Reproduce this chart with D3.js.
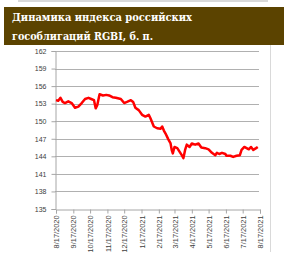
<!DOCTYPE html>
<html><head><meta charset="utf-8">
<script src="https://cdn.jsdelivr.net/npm/d3@7"></script>
<style>body{margin:0;background:#fff;}svg{display:block;}</style>
</head><body>
<svg id="c" width="286" height="262"></svg>
<script>
const titleLines = ["Динамика индекса российских", "гособлигаций RGBI, б. п."];
const dates = ["2020-08-17","2020-08-21","2020-08-25","2020-08-29","2020-09-02","2020-09-08","2020-09-14","2020-09-20","2020-09-26","2020-10-02","2020-10-08","2020-10-14","2020-10-19","2020-10-24","2020-10-27","2020-10-30","2020-11-02","2020-11-03","2020-11-09","2020-11-15","2020-11-20","2020-11-26","2020-12-02","2020-12-11","2020-12-17","2020-12-22","2020-12-29","2021-01-02","2021-01-06","2021-01-12","2021-01-18","2021-01-24","2021-01-30","2021-02-02","2021-02-08","2021-02-14","2021-02-20","2021-02-23","2021-02-26","2021-03-01","2021-03-06","2021-03-10","2021-03-12","2021-03-14","2021-03-17","2021-03-22","2021-03-26","2021-03-30","2021-04-02","2021-04-05","2021-04-08","2021-04-13","2021-04-17","2021-04-23","2021-04-29","2021-05-04","2021-05-11","2021-05-17","2021-05-23","2021-05-29","2021-06-01","2021-06-05","2021-06-10","2021-06-16","2021-06-18","2021-06-25","2021-06-30","2021-07-06","2021-07-12","2021-07-15","2021-07-20","2021-07-24","2021-07-28","2021-08-01","2021-08-05","2021-08-10","2021-08-13"];
const values = [153.6,153.5,154.0,153.3,153.1,153.4,153.1,152.3,152.5,153.1,153.8,154.0,153.8,153.6,152.2,152.8,154.2,154.6,154.4,154.5,154.4,154.1,154.0,153.8,153.1,153.3,153.6,153.3,152.3,151.9,151.1,150.8,151.1,150.5,149.1,148.8,148.7,149.1,148.4,147.9,146.9,146.2,145.1,144.5,145.6,145.4,144.8,144.2,143.7,145.1,146.0,145.6,146.2,146.0,146.2,145.5,145.4,145.2,144.6,144.2,144.6,144.4,144.6,144.4,144.1,144.1,143.9,144.1,144.2,145.1,145.6,145.4,145.2,145.6,145.1,145.4,145.6];
const yTicks = [135,138,141,144,147,150,153,156,159,162];
const xTickLabels = ["8/17/2020","9/17/2020","10/17/2020","11/17/2020","12/17/2020","1/17/2021","2/17/2021","3/17/2021","4/17/2021","5/17/2021","6/17/2021","7/17/2021","8/17/2021"];

const parse = d3.timeParse("%Y-%m-%d");
const parseTick = d3.timeParse("%m/%d/%Y");
const data = dates.map((d,i)=>({date:parse(d), v:values[i]}));
const tickDates = xTickLabels.map(parseTick);

const svg = d3.select("#c");
// frame lines
svg.append("line").attr("x1",18).attr("x2",268).attr("y1",1).attr("y2",1).attr("stroke","#d9d9d9").attr("stroke-width",2);
svg.append("line").attr("x1",270.5).attr("x2",270.5).attr("y1",45).attr("y2",252).attr("stroke","#d9d9d9").attr("stroke-width",1);
// banner
svg.append("rect").attr("x",4).attr("y",7).attr("width",280).attr("height",38).attr("fill","#5b4300");
const titleWidths = [180, 141];
svg.selectAll("text.title").data(titleLines).join("text").attr("class","title")
  .attr("x",12).attr("y",(d,i)=>20.5+i*19)
  .attr("fill","#fff").attr("font-family","'DejaVu Serif', serif").attr("font-weight","bold").attr("font-size","10.5px")
  .attr("textLength",(d,i)=>titleWidths[i]).attr("lengthAdjust","spacingAndGlyphs")
  .text(d=>d);

const x = d3.scaleTime().domain([tickDates[0], tickDates[tickDates.length-1]]).range([56, 260]);
const y = d3.scaleLinear().domain([135,162]).range([209,51]);

// gridlines
svg.append("g").selectAll("line").data(yTicks.slice(1)).join("line")
  .attr("x1",55).attr("x2",259).attr("y1",d=>Math.round(y(d))+0.5).attr("y2",d=>Math.round(y(d))+0.5)
  .attr("stroke","#b0b0b0").attr("stroke-width",1);

// y axis
const yAxis = d3.axisLeft(y).tickValues(yTicks).tickSize(4).tickPadding(5);
const gy = svg.append("g").attr("transform","translate(55.5,0)").call(yAxis);
gy.select(".domain").attr("stroke","#a6a6a6");
gy.selectAll(".tick line").attr("stroke","#a6a6a6");
gy.selectAll(".tick text").attr("fill","#404040").attr("font-family","'Liberation Sans', sans-serif").attr("font-size","7px");

// x axis
const xAxis = d3.axisBottom(x).tickValues(tickDates).tickFormat((d,i)=>xTickLabels[i]).tickSize(4);
const gx = svg.append("g").attr("transform","translate(0,209.5)").call(xAxis);
gx.select(".domain").attr("stroke","#a6a6a6");
gx.selectAll(".tick line").attr("stroke","#a6a6a6");
gx.selectAll(".tick text").attr("fill","#404040").attr("font-family","'Liberation Sans', sans-serif").attr("font-size","7.4px")
  .attr("text-anchor","end").attr("transform","rotate(-90)").attr("x",-6).attr("y",0).attr("dy","0.35em");

// line
svg.append("path").datum(data)
  .attr("d", d3.line().x(d=>x(d.date)).y(d=>y(d.v)))
  .attr("fill","none").attr("stroke","#ff0000").attr("stroke-width",2.5).attr("stroke-linejoin","round");
</script>
</body></html>
